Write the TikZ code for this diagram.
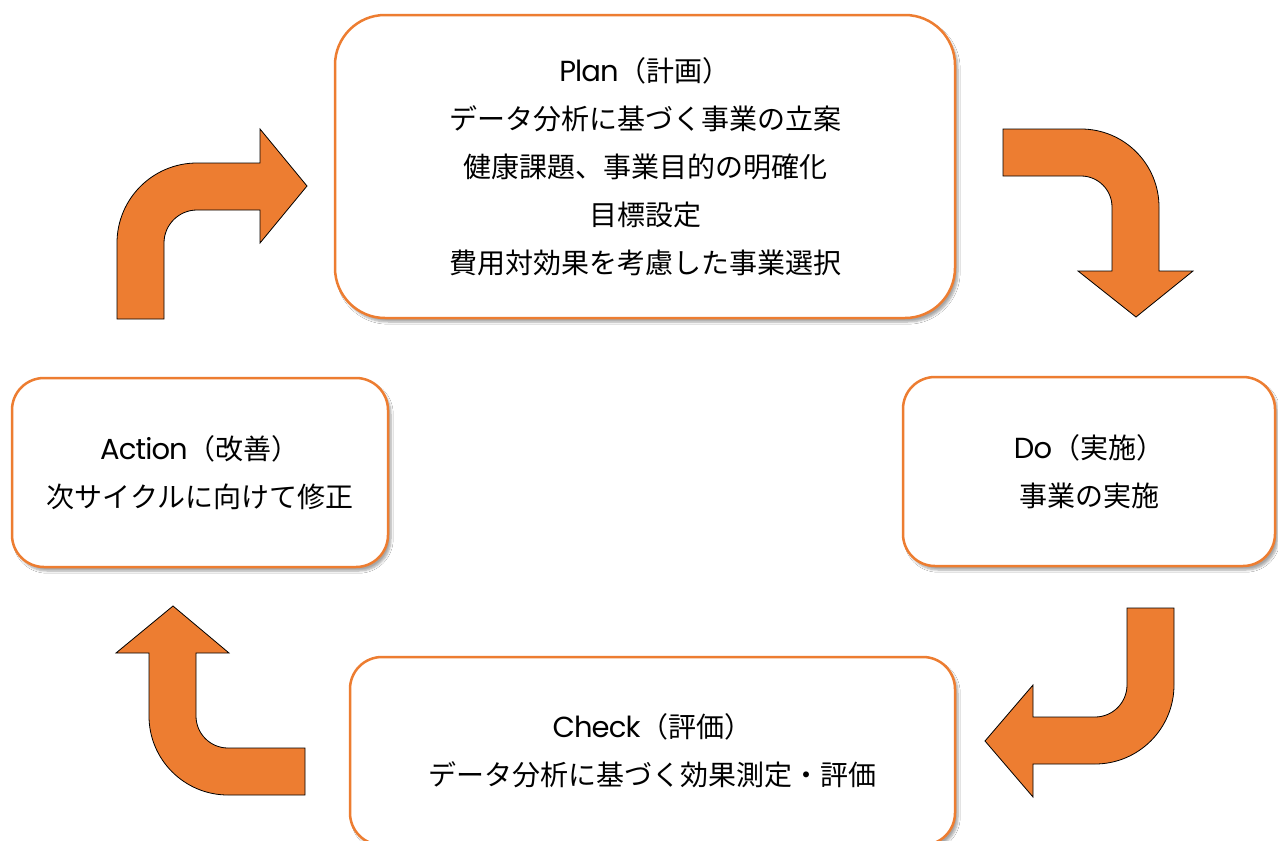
\documentclass[tikz,border=0pt]{standalone}
\usepackage{fontspec}
\setmainfont{Noto Sans CJK JP}
\newfontfamily\headlatin[LetterSpace=-3]{Poppins}
\newcommand{\hl}[1]{{\headlatin\fontsize{29pt}{48pt}\selectfont #1}}
\usetikzlibrary{shadows.blur}
\definecolor{accent}{HTML}{ED7D31}
\tikzset{
  pdcabox/.style={draw=accent, line width=2.5pt, fill=white, rounded corners=#1,
    align=center, inner sep=0pt, font=\fontsize{28pt}{48pt}\selectfont,
    blur shadow={shadow xshift=3pt, shadow yshift=-4pt, shadow opacity=35, shadow blur steps=6}},
  bentarrow/.style={draw=black, line width=0.8pt, fill=accent, line join=miter}
}
\begin{document}
\begin{tikzpicture}[x=1pt,y=-1pt]
\clip (0,0) rectangle (1278,841);
\fill[white] (0,0) rectangle (1278,841);

% boxes
\node[pdcabox=50pt, minimum width=620pt, minimum height=303pt] (plan) at (645,166.5)
  {\hl{Plan}（計画）\\データ分析に基づく事業の立案\\健康課題、事業目的の明確化\\目標設定\\費用対効果を考慮した事業選択};
\node[pdcabox=32pt, minimum width=376pt, minimum height=189pt] (action) at (200,472.5)
  {\hl{Action}（改善）\\次サイクルに向けて修正};
\node[pdcabox=32pt, minimum width=372pt, minimum height=189pt] (do) at (1089,471.5)
  {\hl{Do}（実施）\\事業の実施};
\node[pdcabox=32pt, minimum width=605pt, minimum height=188pt] (check) at (652.5,751)
  {\hl{Check}（評価）\\データ分析に基づく効果測定・評価};

% arrow Action -> Plan
\draw[bentarrow] (117,319) -- (117,243) .. controls (117,198.8) and (152.8,163) .. (197,163)
  -- (260,163) -- (260,129) -- (307,186) -- (260,243) -- (260,210) -- (197,210)
  .. controls (178.8,210) and (164,224.8) .. (164,243) -- (164,319) -- cycle;

% arrow Plan -> Do
\draw[bentarrow] (1003,129) -- (1081,129) .. controls (1124.1,129) and (1159,163.9) .. (1159,207)
  -- (1159,271) -- (1193,271) -- (1136,317) -- (1078,271) -- (1112,271) -- (1112,207)
  .. controls (1112,189.9) and (1098.1,176) .. (1081,176) -- (1003,176) -- cycle;

% arrow Do -> Check
\draw[bentarrow] (1127,608) -- (1174,608) -- (1174,685) .. controls (1174,728.6) and (1138.6,764) .. (1095,764)
  -- (1033,764) -- (1033,797) -- (985,741) -- (1033,685) -- (1033,717) -- (1095,717)
  .. controls (1112.7,717) and (1127,702.7) .. (1127,685) -- cycle;

% arrow Check -> Action
\draw[bentarrow] (305,748) -- (228,748) .. controls (210.3,748) and (196,733.7) .. (196,716)
  -- (196,653) -- (229,653) -- (173,606) -- (116,653) -- (149,653) -- (149,716)
  .. controls (149,759.6) and (184.4,795) .. (228,795) -- (305,795) -- cycle;
\end{tikzpicture}
\end{document}
